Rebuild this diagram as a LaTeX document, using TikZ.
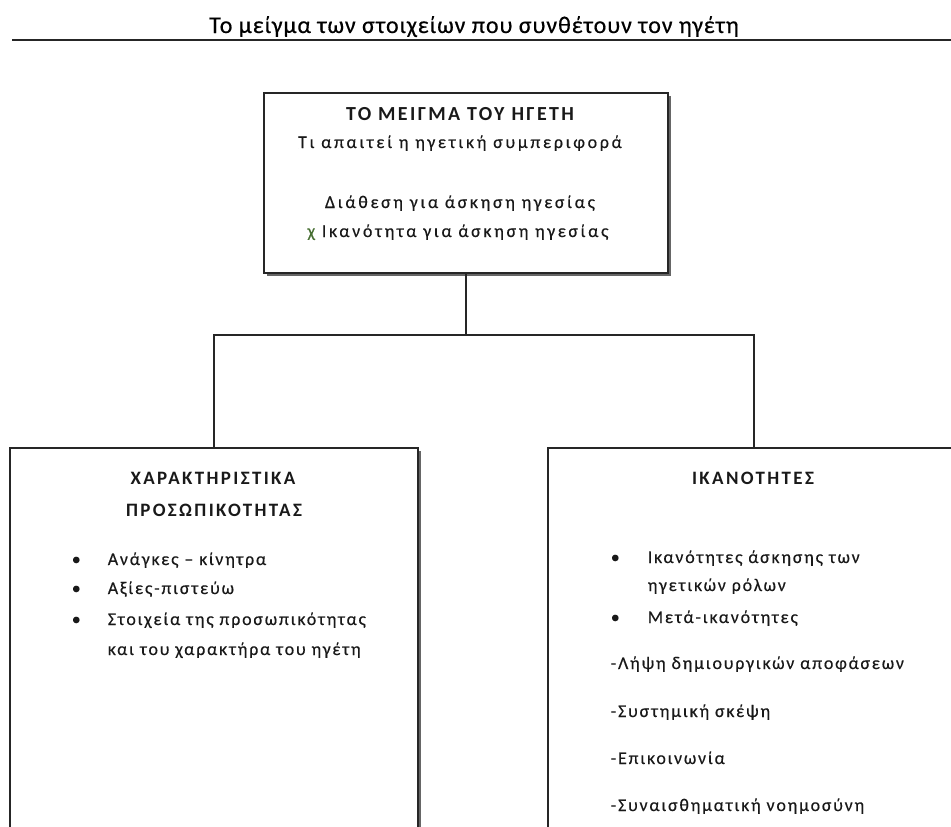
\documentclass[tikz,border=0pt]{standalone}
\usepackage{fontspec}
\setmainfont{Carlito}
\newfontfamily\titlefont[LetterSpace=4,FakeBold=0.5]{Carlito}
\newfontfamily\topfont[LetterSpace=15,FakeBold=0.3]{Carlito}
\newfontfamily\listfont[LetterSpace=10,FakeBold=0.3]{Carlito}
\newfontfamily\headfont[LetterSpace=12.5]{Carlito}
\newfontfamily\topheadfont[LetterSpace=12]{Carlito}
\usetikzlibrary{shadows}
\definecolor{inkgreen}{RGB}{70,110,50}
\begin{document}
\begin{tikzpicture}[x=1bp,y=-1bp,line width=1.6bp,
  box/.style={draw=black!85,fill=white,rectangle,inner sep=0pt,
    drop shadow={shadow xshift=3bp,shadow yshift=-3bp,fill=black!60,opacity=1}},
  body/.style={font=\listfont\fontsize{18}{21}\selectfont,inner sep=0pt,text=black!90},
  topbody/.style={font=\topfont\fontsize{18}{21}\selectfont,inner sep=0pt,text=black!90},
  hd/.style={font=\headfont\fontsize{19}{22}\selectfont\bfseries,inner sep=0pt,text=black!90},
  tophd/.style={font=\topheadfont\fontsize{20}{24}\selectfont\bfseries,inner sep=0pt,text=black!90},
  lft/.style={anchor=base west},
  ctr/.style={anchor=base},
  conn/.style={draw=black!85,line width=1.6bp}]
\useasboundingbox (0,0) rectangle (951,827);
\clip (0,0) rectangle (951,827);
% title
\node[font=\titlefont\fontsize{24}{28}\selectfont,inner sep=0pt,anchor=base] (title) at (474,33) {Το μείγμα των στοιχείων που συνθέτουν τον ηγέτη};
\coordinate (ruleL) at (12,40);
\coordinate (ruleR) at (951,40);
\draw[line width=2.5bp,black!85] (ruleL) -- (ruleR);
% boxes
\node[box,minimum width=404bp,minimum height=180bp] (top) at (466,183) {};
\node[box,minimum width=408bp,minimum height=452bp] (left) at (214,674) {};
\node[box,minimum width=412bp,minimum height=452bp] (right) at (754,674) {};
% connectors
\coordinate (j) at (466,335);
\draw[conn] (top.south) -- (j);
\draw[conn] (j) -| (left.north);
\draw[conn] (j) -| (right.north);
% top box text
\node[tophd,ctr] (t1) at (460,120) {ΤΟ ΜΕΙΓΜΑ ΤΟΥ ΗΓΕΤΗ};
\node[topbody,ctr] (t2) at (460,148) {Τι απαιτεί η ηγετική συμπεριφορά};
\node[topbody,ctr] (t3) at (460,208) {Διάθεση για άσκηση ηγεσίας};
\node[topbody,ctr] (t4) at (458,237) {{\color{inkgreen}χ} Ικανότητα για άσκηση ηγεσίας};
% left box text
\node[hd,ctr] (l1) at (213,484) {ΧΑΡΑΚΤΗΡΙΣΤΙΚΑ};
\node[hd,ctr] (l2) at (214,516) {ΠΡΟΣΩΠΙΚΟΤΗΤΑΣ};
\node[body,lft] (lb1) at (71,565) {•};
\node[body,lft] (lb2) at (71,594) {•};
\node[body,lft] (lb3) at (71,625) {•};
\node[body,lft] (l3) at (107,565) {Ανάγκες – κίνητρα};
\node[body,lft] (l4) at (107,594) {Αξίες-πιστεύω};
\node[body,lft] (l5) at (107,625) {Στοιχεία της προσωπικότητας};
\node[body,lft] (l6) at (107,655) {και του χαρακτήρα του  ηγέτη};
% right box text
\node[hd,ctr] (r1) at (753,484) {ΙΚΑΝΟΤΗΤΕΣ};
\node[body,lft] (rb1) at (610,563) {•};
\node[body,lft] (rb2) at (610,623) {•};
\node[body,lft] (r2) at (647,563) {Ικανότητες άσκησης των};
\node[body,lft] (r3) at (647,591) {ηγετικών ρόλων};
\node[body,lft] (r4) at (647,623) {Μετά-ικανότητες};
\node[body,lft] (r5) at (610,669) {-Λήψη δημιουργικών αποφάσεων};
\node[body,lft] (r6) at (610,717) {-Συστημική σκέψη};
\node[body,lft] (r7) at (610,764) {-Επικοινωνία};
\node[body,lft] (r8) at (610,811) {-Συναισθηματική νοημοσύνη};
\end{tikzpicture}
\end{document}
